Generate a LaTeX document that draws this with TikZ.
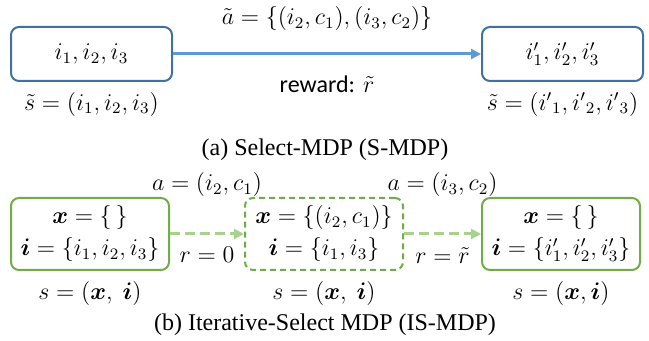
\documentclass[tikz,border=0pt]{standalone}
\usepackage{amsmath}
\usepackage{fontspec}
\setmainfont{Liberation Serif}
\newfontfamily\calibri{Carlito}
\usepackage{xcolor}
\usepackage{tikz}
\usetikzlibrary{positioning,arrows.meta}

\definecolor{boxblue}{HTML}{41719C}
\definecolor{lineblue}{HTML}{5B9BD5}
\definecolor{boxgreen}{HTML}{70AD47}
\definecolor{linegreen}{HTML}{A9D18E}

\begin{document}
\begin{tikzpicture}[
  x=0.5pt, y=-0.5pt,
  font=\fontsize{12}{14}\selectfont,
  sbox/.style={rectangle, draw=boxblue, line width=1pt, rounded corners=4pt, minimum width=80.5pt, minimum height=27pt},
  gbox/.style={rectangle, draw=boxgreen, line width=1pt, rounded corners=4pt, minimum width=79pt, minimum height=36pt, align=center},
  lbl/.style={inner sep=0pt},
  blueline/.style={draw=lineblue, line width=1.5pt, -{Triangle[length=5pt, width=5pt]}},
  greenline/.style={draw=linegreen, line width=1.5pt, dash pattern=on 5pt off 2.5pt, -{Triangle[length=5pt, width=5pt]}}
]
\useasboundingbox (0,0) rectangle (649,341);

% Select-MDP
\node[sbox] (sa) at (91.5,54) {$i_1,i_2,i_3$};
\node[sbox] (sb) at (562.5,54) {$i'_1,i'_2,i'_3$};
\node[lbl, below=5pt of sa] (sal) {$\tilde{s}=(i_1,i_2,i_3)$};
\node[lbl, below=5pt of sb] (sbl) {$\tilde{s}=({i'}_1,{i'}_2,{i'}_3)$};

\draw[blueline] (sa) -- (sb)
  node[lbl, midway, above=11pt] (act) {$\tilde{a}=\{(i_2,c_1),(i_3,c_2)\}$}
  node[lbl, midway, below=10pt] (rew) {{\calibri reward:} $\tilde{r}$};

\node (capa) at (325,150) {(a) Select-MDP (S-MDP)};

% Iterative-Select MDP
\node[gbox] (ga) at (90,234) {$\boldsymbol{x}=\{\,\}$\\[2pt]$\boldsymbol{i}=\{i_1,i_2,i_3\}$};
\node[gbox, dash pattern=on 3pt off 2pt] (gb) at (324,234) {$\boldsymbol{x}=\{(i_2,c_1)\}$\\[2pt]$\boldsymbol{i}=\{i_1,i_3\}$};
\node[gbox] (gc) at (561,234) {$\boldsymbol{x}=\{\,\}$\\[2pt]$\boldsymbol{i}=\{i'_1,i'_2,i'_3\}$};
\node[lbl, below=5pt of ga] (gal) {$s=(\boldsymbol{x},\ \boldsymbol{i})$};
\node[lbl, below=5pt of gb] (gbl) {$s=(\boldsymbol{x},\ \boldsymbol{i})$};
\node[lbl, below=5pt of gc] (gcl) {$s=(\boldsymbol{x},\boldsymbol{i})$};

\draw[greenline] (ga) -- (gb)
  node[lbl, midway, above=18pt] (a1) {$a=(i_2,c_1)$}
  node[lbl, midway, below=6pt] (r1) {$r=0$};
\draw[greenline] (gb) -- (gc)
  node[lbl, midway, above=18pt] (a2) {$a=(i_3,c_2)$}
  node[lbl, midway, below=6pt] (r2) {$r=\tilde{r}$};

\node (capb) at (325,325) {(b) Iterative-Select MDP (IS-MDP)};

\end{tikzpicture}
\end{document}
